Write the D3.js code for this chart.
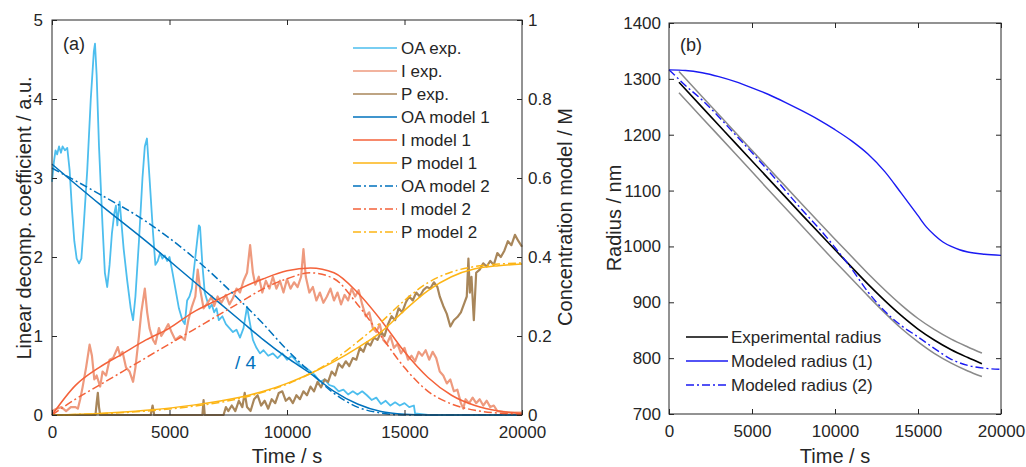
<!doctype html>
<html>
<head>
<meta charset="utf-8">
<title>Decomposition coefficients and radius</title>
<script src="https://cdnjs.cloudflare.com/ajax/libs/d3/7.8.5/d3.min.js"></script>
<style>
  body { margin: 0; background: #fff; font-family: 'Liberation Sans', Arial, sans-serif; }
  svg text { fill: #262626; }
</style>
</head>
<body>
<div id="chart"></div>
<script>
// ---- panel (a): experimental coefficients, [time s, a.u.] ----
const oaExp = [[0,2.95],[80,3.2],[150,3.35],[220,3.3],[300,3.4],[380,3.32],[450,3.4],[550,3.35],[650,3.38],[750,3.1],[850,2.6],[950,2.2],[1050,1.98],[1150,1.92],[1250,1.98],[1350,2.4],[1500,3.1],[1650,4.0],[1780,4.6],[1830,4.7],[1900,4.3],[2000,3.4],[2150,2.4],[2250,1.8],[2350,1.62],[2450,1.9],[2550,2.3],[2650,2.55],[2720,2.65],[2780,2.4],[2820,2.55],[2880,2.7],[2950,2.45],[3050,2.1],[3200,1.7],[3350,1.35],[3450,1.2],[3550,1.5],[3700,2.2],[3850,3.0],[3950,3.4],[4040,3.5],[4150,3.0],[4300,2.3],[4400,1.9],[4500,1.95],[4600,2.05],[4700,1.98],[4800,2.02],[4900,1.95],[5000,2.0],[5100,1.85],[5250,1.6],[5400,1.35],[5550,1.2],[5650,1.15],[5750,1.45],[5850,1.5],[5950,1.6],[6100,2.0],[6250,2.4],[6300,2.38],[6400,1.9],[6500,1.55],[6600,1.45],[6700,1.35],[6800,1.4],[6900,1.3],[7000,1.35],[7100,1.2],[7250,1.25],[7400,1.15],[7550,1.1],[7700,1.05],[7850,1.08],[8000,0.98],[8150,1.1],[8300,1.37],[8400,1.2],[8550,0.95],[8700,0.85],[8850,0.78],[9000,0.82],[9200,0.75],[9400,0.78],[9600,0.72],[9800,0.78],[10000,0.7],[10200,0.75],[10400,0.68],[10600,0.62],[10800,0.6],[11000,0.55],[11200,0.5],[11400,0.42],[11600,0.45],[11800,0.38],[12000,0.36],[12200,0.3],[12400,0.32],[12600,0.26],[12800,0.3],[13000,0.26],[13200,0.3],[13400,0.25],[13600,0.19],[13800,0.22],[14000,0.14],[14200,0.18],[14400,0.12],[14600,0.16],[14800,0.12],[15000,0.15],[15200,0.1],[15400,0.12],[15450,0.02],[16000,0],[20000,0]];
const iExp = [[0,0.05],[200,0.08],[400,0.1],[600,0.05],[800,0.1],[1000,0.1],[1100,0.08],[1200,0.2],[1300,0.35],[1450,0.6],[1600,0.89],[1700,0.75],[1800,0.45],[1900,0.5],[2050,0.36],[2150,0.55],[2300,0.5],[2450,0.7],[2600,0.72],[2800,0.86],[2900,0.75],[3000,0.8],[3150,0.6],[3300,0.55],[3450,0.42],[3550,0.6],[3700,1.0],[3800,1.3],[3950,1.6],[4050,1.3],[4150,1.1],[4300,0.95],[4400,0.9],[4550,1.1],[4650,1.0],[4800,1.07],[4950,1.15],[5100,1.04],[5250,0.95],[5450,1.0],[5650,0.95],[5800,1.2],[5950,1.37],[6100,1.5],[6200,1.84],[6300,1.6],[6450,1.35],[6600,1.41],[6800,1.5],[6900,1.38],[7050,1.5],[7200,1.42],[7400,1.52],[7550,1.4],[7700,1.48],[7850,1.6],[8000,1.55],[8150,1.7],[8300,1.8],[8430,2.15],[8550,1.8],[8650,1.65],[8800,1.75],[8950,1.55],[9100,1.7],[9250,1.6],[9400,1.75],[9550,1.6],[9700,1.7],[9850,1.55],[10000,1.72],[10150,1.6],[10300,1.68],[10450,1.62],[10600,1.75],[10700,2.1],[10800,1.75],[10950,1.55],[11100,1.62],[11250,1.45],[11400,1.55],[11550,1.42],[11700,1.5],[11850,1.6],[12000,1.45],[12150,1.55],[12300,1.4],[12450,1.52],[12600,1.45],[12750,1.6],[12900,1.5],[13050,1.58],[13200,1.4],[13350,1.25],[13500,1.3],[13650,1.1],[13800,1.05],[13950,1.15],[14100,0.95],[14250,0.9],[14400,1.0],[14550,0.85],[14700,0.9],[14850,0.78],[15000,0.85],[15150,0.7],[15300,0.75],[15450,0.68],[15600,0.8],[15750,0.75],[15900,0.82],[16050,0.7],[16200,0.8],[16350,0.72],[16500,0.55],[16650,0.5],[16800,0.4],[16950,0.45],[17100,0.3],[17250,0.32],[17400,0.15],[17500,0.08],[17600,0.2],[17750,0.15],[17900,0.22],[18050,0.15],[18200,0.2],[18350,0.12],[18500,0.18],[18650,0.1],[18800,0.12],[18950,0.05],[19200,0.04],[19500,0.03],[20000,0.03]];
const pExp = [[0,0],[1850,0],[1900,0.15],[1950,0.28],[2000,0.1],[2050,0],[4200,0],[4280,0.12],[4350,0],[6400,0],[6450,0.19],[6500,0],[7300,0],[7400,0.1],[7500,0.05],[7650,0.12],[7800,0.05],[7950,0.18],[8100,0.1],[8200,0.28],[8300,0.1],[8450,0.05],[8600,0.2],[8750,0.25],[8900,0.12],[9050,0.18],[9200,0.08],[9350,0.2],[9500,0.15],[9650,0.28],[9800,0.3],[9950,0.18],[10100,0.22],[10250,0.15],[10400,0.25],[10550,0.2],[10700,0.3],[10850,0.25],[11000,0.36],[11150,0.3],[11300,0.42],[11450,0.35],[11600,0.45],[11750,0.42],[11900,0.55],[12050,0.5],[12200,0.65],[12350,0.6],[12500,0.68],[12650,0.62],[12800,0.72],[12950,0.7],[13100,0.85],[13250,0.8],[13400,0.92],[13550,0.88],[13700,0.98],[13850,0.95],[14000,1.05],[14150,1.0],[14300,1.15],[14450,1.25],[14600,1.2],[14750,1.35],[14900,1.3],[15050,1.42],[15200,1.5],[15350,1.45],[15500,1.55],[15650,1.5],[15800,1.58],[15950,1.62],[16100,1.6],[16250,1.68],[16400,1.62],[16500,1.5],[16650,1.38],[16800,1.28],[16950,1.12],[17100,1.2],[17250,1.24],[17400,1.3],[17550,1.42],[17650,1.5],[17720,1.98],[17780,1.55],[17850,1.75],[17950,1.2],[18050,1.8],[18200,1.84],[18350,1.92],[18500,1.88],[18650,1.95],[18800,1.9],[18950,2.05],[19100,2.0],[19250,2.08],[19400,2.2],[19550,2.15],[19700,2.28],[19850,2.2],[20000,2.13]];

// ---- panel (a): models, [time s, concentration M] ----
const oaModel1 = [[0,0.635],[2000,0.535],[4000,0.44],[6000,0.34],[8000,0.24],[9000,0.19],[10000,0.145],[11000,0.105],[12000,0.06],[13000,0.028],[14000,0.009],[15000,0.002],[16000,0],[20000,0]];
const iModel1 = [[0,0],[1000,0.075],[2000,0.12],[3000,0.155],[4000,0.19],[5000,0.22],[6000,0.26],[7000,0.29],[8000,0.32],[9000,0.345],[10000,0.365],[11000,0.372],[12000,0.36],[13000,0.31],[14000,0.24],[15000,0.16],[16000,0.095],[17000,0.05],[18000,0.024],[19000,0.01],[20000,0.004]];
const pModel1 = [[0,0],[2000,0.004],[4000,0.012],[6000,0.025],[8000,0.045],[9000,0.06],[10000,0.08],[11000,0.105],[12000,0.135],[13000,0.17],[14000,0.21],[15000,0.265],[16000,0.315],[17000,0.35],[18000,0.37],[19000,0.378],[20000,0.382]];
const oaModel2 = [[0,0.625],[2000,0.56],[4000,0.49],[6000,0.40],[8000,0.29],[9000,0.23],[10000,0.165],[11000,0.108],[12000,0.055],[13000,0.02],[14000,0.005],[15000,0],[20000,0]];
const iModel2 = [[0,0],[1000,0.04],[2000,0.075],[3000,0.11],[4000,0.145],[5000,0.18],[6000,0.215],[7000,0.25],[8000,0.285],[9000,0.32],[10000,0.345],[11000,0.36],[12000,0.345],[13000,0.28],[14000,0.2],[15000,0.12],[16000,0.06],[17000,0.028],[18000,0.012],[19000,0.005],[20000,0.002]];
const pModel2 = [[0,0],[4000,0.01],[6000,0.022],[8000,0.042],[9000,0.058],[10000,0.078],[11000,0.105],[12000,0.14],[13000,0.185],[14000,0.235],[15000,0.29],[16000,0.335],[17000,0.362],[18000,0.376],[19000,0.382],[20000,0.385]];

// ---- panel (b): radius, [time s, nm] ----
const radiusExp = [[600,1294],[2000,1249],[4000,1185],[6000,1121],[8000,1057],[10000,994],[11000,963],[12000,932],[13000,903],[14000,876],[15000,852],[16000,832],[17000,815],[18000,801],[18850,790]];
const radiusUpper = [[600,1313],[2000,1268],[4000,1204],[6000,1140],[8000,1076],[10000,1013],[11000,982],[12000,951],[13000,922],[14000,895],[15000,871],[16000,851],[17000,834],[18000,820],[18850,809]];
const radiusLower = [[600,1275],[2000,1230],[4000,1166],[6000,1101],[8000,1037],[10000,973],[11000,942],[12000,911],[13000,881],[14000,853],[15000,829],[16000,808],[17000,791],[18000,777],[18850,767]];
const radiusModel1 = [[0,1316],[1000,1315],[2000,1311],[3000,1304],[4000,1295],[5000,1284],[6000,1272],[7000,1258],[8000,1243],[9000,1227],[10000,1209],[11000,1189],[12000,1165],[13000,1134],[14000,1095],[15000,1055],[15500,1035],[16000,1020],[16500,1008],[17000,1000],[17500,994],[18000,990],[19000,986],[20000,984]];
const radiusModel2 = [[0,1316],[300,1308],[700,1296],[2000,1262],[4000,1200],[6000,1135],[8000,1066],[9280,1024],[10000,998],[11000,960],[12000,918],[13000,884],[14000,858],[15000,838],[16000,817],[17000,798],[18000,787],[19000,782],[20000,780]];

// tick labels
const timeTicks = [0, 5000, 10000, 15000, 20000];
const coefTicks = [0, 1, 2, 3, 4, 5];
const concTicks = [0, 0.2, 0.4, 0.6, 0.8, 1];
const radiusTicks = [700, 800, 900, 1000, 1100, 1200, 1300, 1400];

const legendA = ['OA exp.', 'I exp.', 'P exp.', 'OA model 1', 'I model 1', 'P model 1', 'OA model 2', 'I model 2', 'P model 2'];
const legendB = ['Experimental radius', 'Modeled radius (1)', 'Modeled radius (2)'];

const C = {oaExp:'#4DBEEE', iExp:'#EE9A7E', pExp:'#A8865A', oa:'#0072BD', i:'#F4623A', p:'#FDB515', blue:'#1A1AF2', gray:'#8a8a8a'};
const DASHDOT = '8,3,2,3';
const AXC = '#262626';

const svg = d3.select('#chart').append('svg')
  .attr('width', 1026)
  .attr('height', 467);

// scales
const xA = d3.scaleLinear().domain([0, 20000]).range([52, 522]);
const yA = d3.scaleLinear().domain([0, 5]).range([415, 20]);
const yA2 = d3.scaleLinear().domain([0, 1]).range([415, 20]);
const xB = d3.scaleLinear().domain([0, 20000]).range([669, 1001]);
const yB = d3.scaleLinear().domain([700, 1400]).range([414, 23]);

function styleAxis(g) {
  g.attr('font-size', 17).attr('font-family', "'Liberation Sans', Arial, sans-serif");
  g.select('.domain').remove();
  g.selectAll('.tick line').attr('stroke', AXC);
  g.selectAll('.tick text').attr('fill', AXC);
}

function drawLine(data, x, y, color, width, dash, curve) {
  const line = d3.line().x(d => x(d[0])).y(d => y(d[1])).curve(curve || d3.curveLinear);
  svg.append('path')
    .datum(data)
    .attr('d', line)
    .attr('fill', 'none')
    .attr('stroke', color)
    .attr('stroke-width', width)
    .attr('stroke-linejoin', 'round')
    .attr('stroke-dasharray', dash || null);
}

const smooth = d3.curveMonotoneX;

// ===== panel (a) =====
drawLine(oaExp, xA, yA, C.oaExp, 1.8);
drawLine(iExp, xA, yA, C.iExp, 2.2);
drawLine(pExp, xA, yA, C.pExp, 2.2);
drawLine(oaModel1, xA, yA2, C.oa, 1.5, null, smooth);
drawLine(iModel1, xA, yA2, C.i, 1.5, null, smooth);
drawLine(pModel1, xA, yA2, C.p, 1.5, null, smooth);
drawLine(oaModel2, xA, yA2, C.oa, 1.5, DASHDOT, smooth);
drawLine(iModel2, xA, yA2, C.i, 1.5, DASHDOT, smooth);
drawLine(pModel2, xA, yA2, C.p, 1.5, DASHDOT, smooth);

svg.append('g').attr('transform', 'translate(0,415)')
  .call(d3.axisBottom(xA).tickValues(timeTicks).tickSize(-5).tickPadding(11).tickFormat(d3.format('d')))
  .call(styleAxis);
svg.append('g').attr('transform', 'translate(0,20)')
  .call(d3.axisTop(xA).tickValues(timeTicks).tickSize(-5).tickFormat(''))
  .call(styleAxis);
svg.append('g').attr('transform', 'translate(52,0)')
  .call(d3.axisLeft(yA).tickValues(coefTicks).tickSize(-5).tickPadding(9).tickFormat(d3.format('d')))
  .call(styleAxis);
svg.append('g').attr('transform', 'translate(522,0)')
  .call(d3.axisRight(yA2).tickValues(concTicks).tickSize(-5).tickPadding(6).tickFormat(d3.format('~g')))
  .call(styleAxis);
svg.append('rect').attr('x', 52).attr('y', 20).attr('width', 470).attr('height', 395)
  .attr('fill', 'none').attr('stroke', AXC).attr('stroke-width', 1);

// legend (a)
const legColA = [C.oaExp, C.iExp, C.pExp, C.oa, C.i, C.p, C.oa, C.i, C.p];
legendA.forEach((name, k) => {
  const y = 48 + k * 23;
  svg.append('line').attr('x1', 353).attr('x2', 397).attr('y1', y).attr('y2', y)
    .attr('stroke', legColA[k]).attr('stroke-width', 1.5)
    .attr('stroke-dasharray', k >= 6 ? DASHDOT : null);
  svg.append('text').attr('x', 401).attr('y', y).attr('dy', '0.35em')
    .attr('font-size', 17).text(name);
});

svg.append('text').attr('x', 63).attr('y', 50).attr('font-size', 18).text('(a)');
svg.append('text').attr('x', 235).attr('y', 369).attr('font-size', 19)
  .style('fill', C.oa).text('/ 4');

svg.append('text').attr('x', 287).attr('y', 463).attr('font-size', 20)
  .attr('text-anchor', 'middle').text('Time / s');
svg.append('text').attr('transform', 'translate(31,218) rotate(-90)').attr('font-size', 20)
  .attr('text-anchor', 'middle').text('Linear decomp. coefficient / a.u.');
svg.append('text').attr('transform', 'translate(572,217) rotate(-90)').attr('font-size', 20)
  .attr('text-anchor', 'middle').text('Concentration model / M');

// ===== panel (b) =====
drawLine(radiusUpper, xB, yB, C.gray, 1.5, null, smooth);
drawLine(radiusLower, xB, yB, C.gray, 1.5, null, smooth);
drawLine(radiusExp, xB, yB, '#000', 1.6, null, smooth);
drawLine(radiusModel1, xB, yB, C.blue, 1.4, null, smooth);
drawLine(radiusModel2, xB, yB, C.blue, 1.4, DASHDOT, smooth);

svg.append('g').attr('transform', 'translate(0,414)')
  .call(d3.axisBottom(xB).tickValues(timeTicks).tickSize(-5).tickPadding(11).tickFormat(d3.format('d')))
  .call(styleAxis);
svg.append('g').attr('transform', 'translate(0,23)')
  .call(d3.axisTop(xB).tickValues(timeTicks).tickSize(-5).tickFormat(''))
  .call(styleAxis);
svg.append('g').attr('transform', 'translate(669,0)')
  .call(d3.axisLeft(yB).tickValues(radiusTicks).tickSize(-5).tickPadding(8).tickFormat(d3.format('d')))
  .call(styleAxis);
svg.append('g').attr('transform', 'translate(1001,0)')
  .call(d3.axisRight(yB).tickValues(radiusTicks).tickSize(-5).tickFormat(''))
  .call(styleAxis);
svg.append('rect').attr('x', 669).attr('y', 23).attr('width', 332).attr('height', 391)
  .attr('fill', 'none').attr('stroke', AXC).attr('stroke-width', 1);

// legend (b)
const legColB = ['#000', C.blue, C.blue];
legendB.forEach((name, k) => {
  const y = 337 + k * 24;
  svg.append('line').attr('x1', 686).attr('x2', 728).attr('y1', y).attr('y2', y)
    .attr('stroke', legColB[k]).attr('stroke-width', 1.5)
    .attr('stroke-dasharray', k === 2 ? DASHDOT : null);
  svg.append('text').attr('x', 731).attr('y', y).attr('dy', '0.35em')
    .attr('font-size', 17).text(name);
});

svg.append('text').attr('x', 680).attr('y', 51).attr('font-size', 18).text('(b)');
svg.append('text').attr('x', 835).attr('y', 463).attr('font-size', 20)
  .attr('text-anchor', 'middle').text('Time / s');
svg.append('text').attr('transform', 'translate(621,218) rotate(-90)').attr('font-size', 20)
  .attr('text-anchor', 'middle').text('Radius / nm');
</script>
</body>
</html>
